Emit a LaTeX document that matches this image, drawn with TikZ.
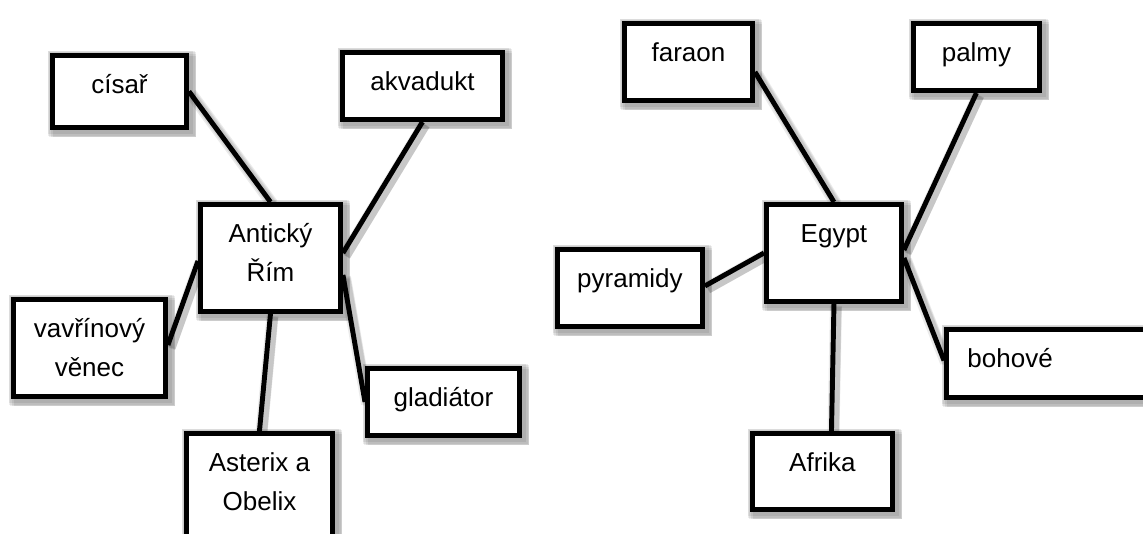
\documentclass[tikz,border=0pt]{standalone}
\usepackage{fontspec}
\setmainfont{Liberation Sans}
\usetikzlibrary{calc}
\pgfdeclarelayer{paper}
\pgfdeclarelayer{shadow}
\pgfdeclarelayer{bg}
\pgfsetlayers{paper,shadow,bg,main}
\tikzset{
  boxst/.style={draw=black, fill=white, line width=3.7pt, inner sep=0pt, anchor=north west},
  link/.style={line width=3.7pt, black},
  shadefill/.style={fill=black, opacity=0.07},
  shadeline/.style={draw=black, opacity=0.08, line width=#1},
}
\newcommand\mkbox[7]{%
  \node[boxst] (#1) at (#2,#3) {\parbox[c][\dimexpr0.75pt*\numexpr#5-#3\relax\relax][t]{\dimexpr0.75pt*\numexpr#4-#2\relax\relax}{#7\fontsize{19.5pt}{29pt}\selectfont\rule{0pt}{28.5pt}#6}};
  \begin{pgfonlayer}{shadow}
  \foreach \k/\g in {1/3,2/4,3/4,4/3,5/2}{
    \fill[shadefill] ($(#1.north west)+(\k-\g,\k-\g)$) rectangle ($(#1.south east)+(\k+\g,\k+\g)$);
  }
  \end{pgfonlayer}}
\newcommand\lnk[2]{%
  \begin{pgfonlayer}{shadow}
  \foreach \k/\w in {2/9pt,3/7pt,4/5pt}{
    \draw[shadeline=\w] ($#1+(\k,\k)$) -- ($#2+(\k,\k)$);
  }
  \end{pgfonlayer}
  \draw[link] #1 -- #2;}
\begin{document}
\begin{tikzpicture}[x=0.75pt,y=-0.75pt]
\clip (0,0) rectangle (1143,534);
\begin{pgfonlayer}{paper}
\fill[white] (0,0) rectangle (1143,534);
\end{pgfonlayer}
% left cluster
\mkbox{cisar}{50}{53}{184}{125}{císař}{\centering}
\mkbox{akv}{340}{50}{500}{117}{akvadukt}{\centering}
\mkbox{rim}{198}{202}{338}{309}{Antický\\Řím}{\centering}
\mkbox{vav}{11}{297}{163}{394}{vavřínový\\věnec}{\centering}
\mkbox{glad}{365}{366}{517}{433}{gladiátor}{\centering}
\mkbox{ast}{184}{431}{330}{570}{Asterix a\\Obelix}{\centering}
% right cluster
\mkbox{far}{622}{21}{750}{98}{faraon}{\centering}
\mkbox{palm}{911}{21}{1037}{88}{palmy}{\centering}
\mkbox{egy}{764}{202}{899}{299}{Egypt}{\centering}
\mkbox{pyr}{555}{247}{700}{324}{pyramidy}{\centering}
\mkbox{boh}{944}{327}{1170}{395}{bohové}{\raggedright\hspace*{15.75pt}}
\mkbox{afr}{750}{431}{890}{507}{Afrika}{\centering}
\begin{pgfonlayer}{bg}
\lnk{(cisar.east)}{(rim.north)}
\lnk{(akv.south)}{($(rim.east)+(0,-5)$)}
\lnk{($(vav.east)+(0,-3)$)}{($(rim.west)+(0,3)$)}
\lnk{(rim.south)}{(ast.north)}
\lnk{($(rim.east)+(0,17)$)}{(glad.west)}
\lnk{($(far.east)+(0,10)$)}{(egy.north)}
\lnk{(palm.south)}{($(egy.east)+(0,-3)$)}
\lnk{($(pyr.east)+(0,-2)$)}{(egy.west)}
\lnk{($(egy.east)+(0,5)$)}{($(boh.west)+(0,-3)$)}
\lnk{(egy.south)}{($(afr.north)+(9,0)$)}
\end{pgfonlayer}
\end{tikzpicture}
\end{document}
